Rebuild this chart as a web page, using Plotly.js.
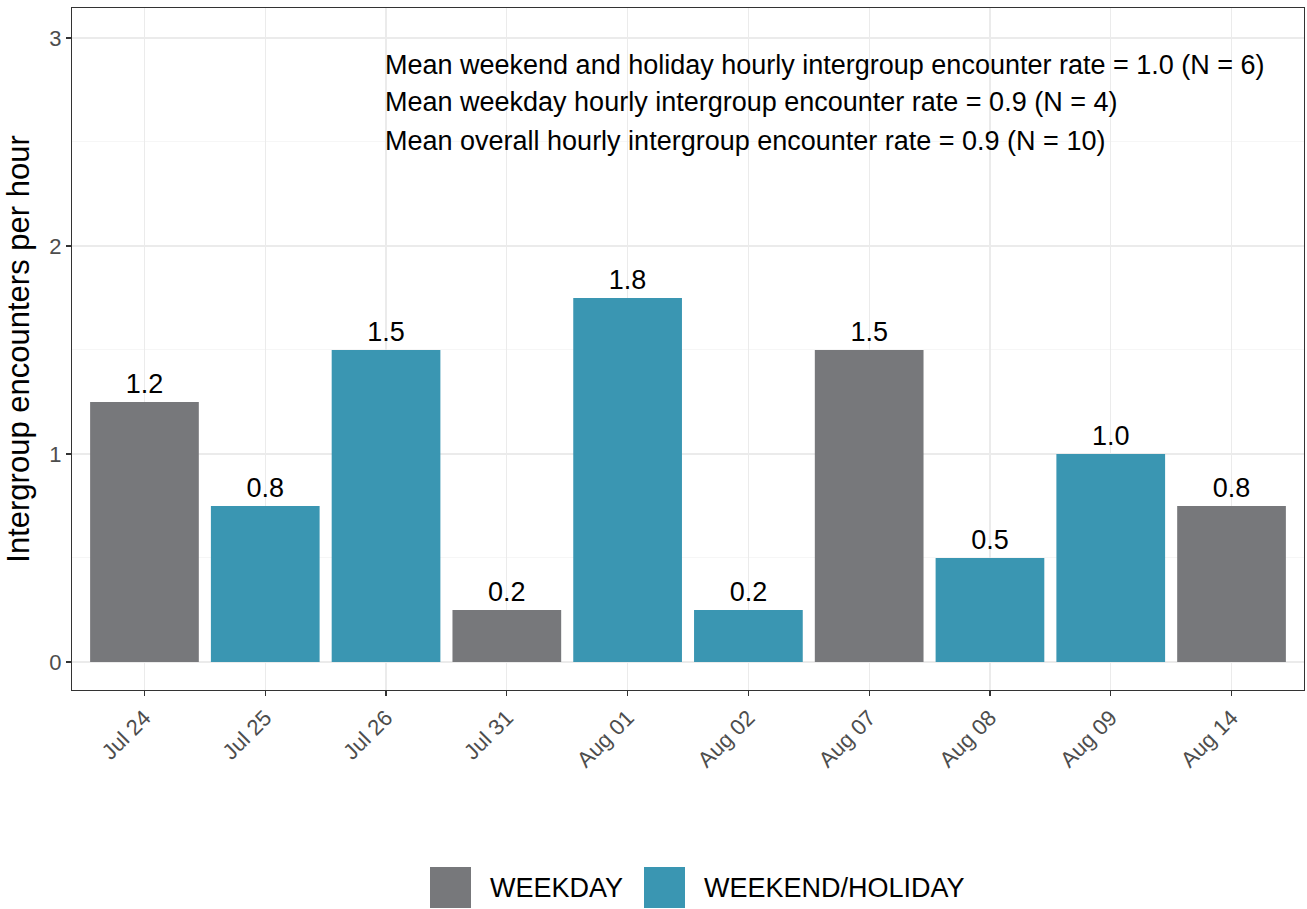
<!DOCTYPE html>
<html>
<head>
<meta charset="utf-8">
<script src="https://cdn.plot.ly/plotly-3.0.1.min.js"></script>
<style>html,body{margin:0;padding:0;background:#fff;}#chart{width:1307px;height:909px;}</style>
</head>
<body>
<div id="chart"></div>
<script>
const dates = ["Jul 24","Jul 25","Jul 26","Jul 31","Aug 01","Aug 02","Aug 07","Aug 08","Aug 09","Aug 14"];
const rates = [1.25, 0.75, 1.5, 0.25, 1.75, 0.25, 1.5, 0.5, 1.0, 0.75];
const rateLabels = ["1.2","0.8","1.5","0.2","1.8","0.2","1.5","0.5","1.0","0.8"];
const dayType = ["WEEKDAY","WEEKEND/HOLIDAY","WEEKEND/HOLIDAY","WEEKDAY","WEEKEND/HOLIDAY","WEEKEND/HOLIDAY","WEEKDAY","WEEKEND/HOLIDAY","WEEKEND/HOLIDAY","WEEKDAY"];
const typeNames = ["WEEKDAY","WEEKEND/HOLIDAY"];
const typeColors = {"WEEKDAY":"#77787B","WEEKEND/HOLIDAY":"#3A96B2"};
const summaryLines = [
  "Mean weekend and holiday hourly intergroup encounter rate = 1.0 (N = 6)",
  "Mean weekday hourly intergroup encounter rate = 0.9 (N = 4)",
  "Mean overall hourly intergroup encounter rate = 0.9 (N = 10)"
];
const summaryY = [2.87, 2.69, 2.505];

const FONT = "Liberation Sans, Arial, sans-serif";

const trace = {
  type: "bar",
  x: dates,
  y: rates,
  text: rateLabels,
  textposition: "outside",
  textfont: {family: FONT, size: 27, color: "#000"},
  cliponaxis: false,
  marker: {color: dayType.map(t => typeColors[t]), line: {width: 0}},
  hoverinfo: "x+y",
  showlegend: false
};

const annotations = summaryLines.map((s, i) => ({
  x: "Jul 26", y: summaryY[i], xref: "x", yref: "y",
  text: s, showarrow: false, xanchor: "left", yanchor: "middle", xshift: -3,
  font: {family: FONT, size: 27, color: "#000"}
}));

// legend (drawn manually to mimic ggplot's large keys)
const W = 1232, H = 682;
const px = p => (p - 72) / W;
const py = p => (690 - p) / H;
const legendKeyX = [430, 644];
const legendTextX = [488, 702];
const shapes = [];
typeNames.forEach((t, i) => {
  shapes.push({type: "rect", xref: "paper", yref: "paper",
    x0: px(legendKeyX[i]), x1: px(legendKeyX[i] + 41), y0: py(908), y1: py(867),
    fillcolor: typeColors[t], line: {width: 0}});
  annotations.push({xref: "paper", yref: "paper", x: px(legendTextX[i]), y: py(888),
    text: t, showarrow: false, xanchor: "left", yanchor: "middle",
    font: {family: FONT, size: 27, color: "#000"}});
});

const layout = {
  width: 1307, height: 909,
  margin: {l: 72, r: 3, t: 8, b: 219},
  paper_bgcolor: "#fff", plot_bgcolor: "#fff",
  font: {family: FONT},
  bargap: 0.1,
  xaxis: {
    type: "category", range: [-0.6, 9.6],
    tickangle: -45, tickfont: {family: FONT, size: 22, color: "#4D4D4D"},
    ticks: "outside", ticklen: 5, tickcolor: "#333", tickwidth: 1.2,
    showgrid: true, gridcolor: "#EBEBEB", gridwidth: 1.2,
    showline: true, linecolor: "#333", linewidth: 1.2, mirror: true,
    zeroline: false
  },
  yaxis: {
    range: [-0.135, 3.144], tickvals: [0, 1, 2, 3],
    tickfont: {family: FONT, size: 22, color: "#4D4D4D"},
    ticks: "outside", ticklen: 5, tickcolor: "#333", tickwidth: 1.2,
    showgrid: true, gridcolor: "#EBEBEB", gridwidth: 1.2,
    minor: {tickvals: [0.5, 1.5, 2.5], showgrid: true, gridcolor: "#F4F4F4", gridwidth: 0.8, ticks: ""},
    showline: true, linecolor: "#333", linewidth: 1.2, mirror: true,
    zeroline: false,
    title: {text: "Intergroup encounters per hour", font: {family: FONT, size: 31, color: "#000"}, standoff: 10}
  },
  annotations: annotations,
  shapes: shapes
};

Plotly.newPlot("chart", [trace], layout, {displayModeBar: false, staticPlot: true});
</script>
</body>
</html>
